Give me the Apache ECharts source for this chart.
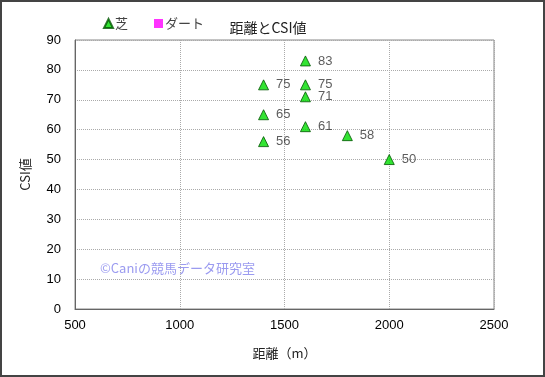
<!DOCTYPE html>
<html>
<head>
<meta charset="utf-8">
<script src="https://cdn.jsdelivr.net/npm/echarts@6/dist/echarts.min.js"></script>
<style>
  html, body { margin: 0; padding: 0; background: #fff; }
  #chart { width: 545px; height: 377px; }
</style>
</head>
<body>
<div id="chart"></div>
<script>
const distances = [1400, 1400, 1400, 1600, 1600, 1600, 1600, 1800, 2000];
const csiValues = [75, 65, 56, 83, 75, 71, 61, 58, 50];
const dirtPoints = [];

const font = "'Noto Sans CJK JP', 'Liberation Sans', sans-serif";

const turfPoints = distances.map((d, i) => [d, csiValues[i]]);

const chart = echarts.init(document.getElementById("chart"));

chart.setOption({
  animation: false,
  textStyle: { fontFamily: font },
  title: {
    text: "距離とCSI値",
    left: 263,
    top: 16,
    textAlign: "center",
    textStyle: { fontSize: 14, fontWeight: "normal", color: "#222", fontFamily: font },
  },
  legend: {
    left: 98,
    top: 12,
    itemWidth: 9,
    itemHeight: 9,
    itemGap: 26,
    textStyle: { fontSize: 13, color: "#444", fontFamily: font, padding: [0, 0, 0, -3] },
    data: [
      { name: "芝", icon: "triangle" },
      { name: "ダート", icon: "rect" },
    ],
  },
  grid: {
    left: 75,
    right: 51,
    top: 40,
    bottom: 68,
    show: true,
    borderColor: "#888",
    borderWidth: 1,
  },
  xAxis: {
    type: "value",
    min: 500,
    max: 2500,
    interval: 500,
    name: "距離（m）",
    nameLocation: "middle",
    nameGap: 38,
    nameTextStyle: { fontSize: 13, color: "#222", fontFamily: font },
    axisLine: { show: true, lineStyle: { color: "#666" } },
    axisTick: { show: false },
    axisLabel: {
      fontSize: 13,
      color: "#000",
      margin: 10,
      formatter: (v) => String(v),
      fontFamily: "'Liberation Sans', sans-serif",
    },
    splitLine: { show: true, lineStyle: { color: "#aaa", type: "dotted" } },
  },
  yAxis: {
    type: "value",
    min: 0,
    max: 90,
    interval: 10,
    name: "CSI値",
    nameLocation: "middle",
    nameGap: 43,
    nameRotate: 90,
    nameTextStyle: { fontSize: 13, color: "#222", fontFamily: font },
    axisLine: { show: true, lineStyle: { color: "#666" } },
    axisTick: { show: false },
    axisLabel: { fontSize: 13, color: "#000", margin: 14, fontFamily: "'Liberation Sans', sans-serif" },
    splitLine: { show: true, lineStyle: { color: "#aaa", type: "dotted" } },
  },
  graphic: [
    {
      type: "rect",
      shape: { x: 1, y: 1, width: 543, height: 375 },
      style: { fill: "none", stroke: "#444", lineWidth: 2 },
      silent: true,
    },
    {
      type: "text",
      left: 100,
      top: 262,
      style: {
        text: "©Caniの競馬データ研究室",
        fill: "#9b9bf0",
        font: "13px " + font,
      },
      silent: true,
    },
  ],
  series: [
    {
      name: "芝",
      type: "scatter",
      symbol: "triangle",
      symbolSize: 10,
      data: turfPoints,
      itemStyle: { color: "#00dd00", borderColor: "#005500", borderWidth: 1 },
      label: {
        show: true,
        position: "right",
        distance: 7,
        formatter: (p) => p.value[1],
        fontSize: 13,
        color: "#333",
        fontFamily: "'Liberation Sans', sans-serif",
      },
    },
    {
      name: "ダート",
      type: "scatter",
      symbol: "rect",
      symbolSize: 10,
      data: dirtPoints,
      itemStyle: { color: "#ff00ff" },
    },
  ],
});
</script>
</body>
</html>
